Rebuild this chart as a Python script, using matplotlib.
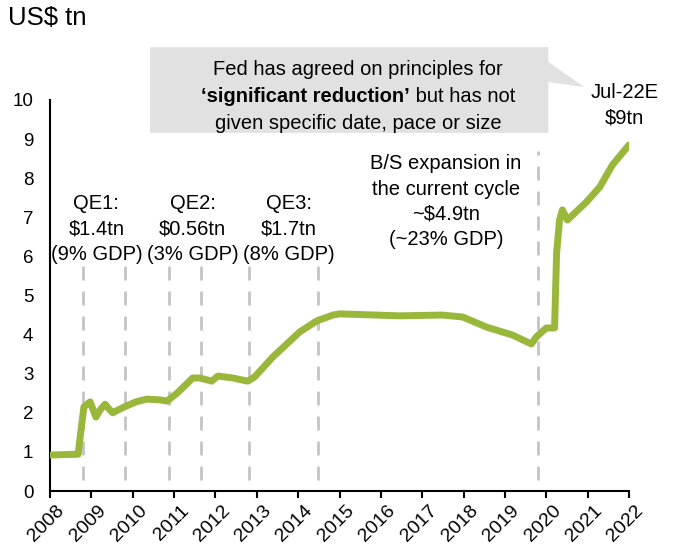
import numpy as np
import matplotlib.pyplot as plt
import matplotlib.transforms as mtransforms
from matplotlib.patches import Polygon
from matplotlib.offsetbox import TextArea, HPacker, VPacker, AnnotationBbox

plt.rcParams['font.family'] = ['Liberation Sans', 'DejaVu Sans']

# Fed balance sheet, US$ tn, by decimal year
t = [2008.0, 2008.68, 2008.75, 2008.82, 2008.97, 2009.11, 2009.21, 2009.33, 2009.45,
     2009.52, 2009.64, 2009.84, 2010.08, 2010.34, 2010.66, 2010.83, 2011.07, 2011.45,
     2011.62, 2011.91, 2012.06, 2012.42, 2012.78, 2012.95, 2013.39, 2014.04, 2014.45,
     2014.84, 2015.0, 2016.45, 2017.49, 2017.98, 2018.56, 2019.18, 2019.64, 2019.76,
     2020.0, 2020.2, 2020.25, 2020.32, 2020.39, 2020.51, 2020.97, 2021.29, 2021.6, 2022.0]
bs = [0.92, 0.94, 1.56, 2.15, 2.28, 1.89, 2.07, 2.22, 2.07,
      2.0, 2.07, 2.17, 2.28, 2.35, 2.33, 2.30, 2.5, 2.89,
      2.89, 2.81, 2.94, 2.89, 2.81, 2.92, 3.43, 4.07, 4.35,
      4.5, 4.53, 4.48, 4.5, 4.45, 4.19, 3.99, 3.76, 3.94,
      4.17, 4.17, 6.09, 6.93, 7.19, 6.93, 7.39, 7.77, 8.34, 8.85]

# start / end of each QE round, plus start of the current cycle
qe_dates = [2008.8, 2009.81, 2010.87, 2011.65, 2012.82, 2014.47]
cycle_start = 2019.79

qe_labels = ['QE1:\n$1.4tn\n(9% GDP)', 'QE2:\n$0.56tn\n(3% GDP)', 'QE3:\n$1.7tn\n(8% GDP)']
qe_label_x = [2009.12, 2011.45, 2013.77]
years = list(range(2008, 2023))

green = '#99b83b'
grey = '#c4c4c4'

fig = plt.figure(figsize=(6.8, 5.44), dpi=100)
ax = fig.add_axes([50/680, 53/544, 579/680, 391/544])

for d in qe_dates:
    ax.plot([d, d], [0.28, 5.8], color=grey, lw=2, dashes=(5, 4), zorder=1)
ax.plot([cycle_start, cycle_start], [0.28, 8.7], color=grey, lw=2, dashes=(5, 4), zorder=1)

ax.plot(t, bs, color=green, lw=5, solid_capstyle='round', solid_joinstyle='round', zorder=3)

ax.set_xlim(2008, 2022)
ax.set_ylim(0, 10)
ax.set_xticks(years)
ax.set_xticklabels([str(y) for y in years], rotation=45, ha='right', rotation_mode='anchor')
ax.set_yticks(range(0, 11))
ax.tick_params(axis='x', length=5, width=1.5, labelsize=14, pad=3)
ax.tick_params(axis='y', length=0, labelsize=13.5, pad=12)
shift = mtransforms.ScaledTranslation(6/100, 0, fig.dpi_scale_trans)
for lab in ax.get_xticklabels():
    lab.set_transform(lab.get_transform() + shift)
for s in ['top', 'right']:
    ax.spines[s].set_visible(False)
for s in ['left', 'bottom']:
    ax.spines[s].set_linewidth(1.5)

fs = 14.5
for x, txt in zip(qe_label_x, qe_labels):
    ax.text(x, 6.7, txt, ha='center', va='center', fontsize=fs, linespacing=1.45)
ax.text(2017.57, 7.4, 'B/S expansion in\nthe current cycle\n~$4.9tn\n(~23% GDP)',
        ha='center', va='center', fontsize=fs, linespacing=1.42)
ax.text(2021.9, 9.87, 'Jul-22E\n$9tn', ha='center', va='center', fontsize=fs,
        linespacing=1.45, clip_on=False)
fig.text(8/680, 1 - 18/544, 'US$ tn', ha='left', va='center', fontsize=18.5)

# callout box with a pointer towards the latest figure
callout = Polygon([(2010.42, 11.35), (2020.05, 11.35), (2020.05, 10.97), (2020.92, 10.33),
                   (2020.05, 10.46), (2020.05, 9.16), (2010.42, 9.16)],
                  closed=True, facecolor='#e1e1e1', edgecolor='none', clip_on=False, zorder=2)
ax.add_patch(callout)

props = dict(fontsize=fs)
line1 = TextArea('Fed has agreed on principles for', textprops=props)
bold = TextArea('\u2018significant reduction\u2019', textprops=dict(fontsize=fs, fontweight='bold'))
rest = TextArea(' but has not', textprops=props)
line2 = HPacker(children=[bold, rest], pad=0, sep=0, align='baseline')
line3 = TextArea('given specific date, pace or size', textprops=props)
block = VPacker(children=[line1, line2, line3], align='center', pad=0, sep=5.8)
ab = AnnotationBbox(block, (2015.45, 10.08), xycoords='data', frameon=False,
                    box_alignment=(0.5, 0.5), annotation_clip=False, zorder=4)
ax.add_artist(ab)

fig.savefig('out.png', dpi=100)
